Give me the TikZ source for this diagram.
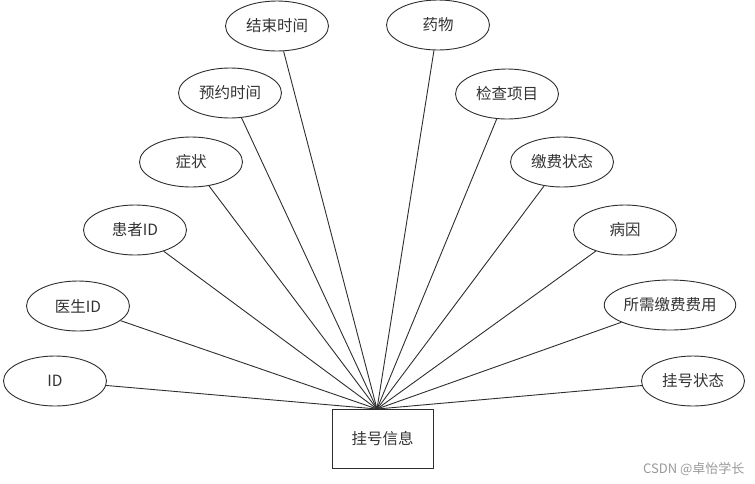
\documentclass[tikz,border=0pt]{standalone}
\usepackage{fontspec}
\newfontfamily\cjk{Noto Sans CJK SC}
\usetikzlibrary{shapes.geometric}
\definecolor{ln}{HTML}{2E2E2E}
\definecolor{tx}{HTML}{333333}
\begin{document}
\begin{tikzpicture}[x=1pt,y=-1pt,
  attr/.style={ellipse,draw=ln,line width=0.9pt,minimum width=103pt,minimum height=50pt,inner sep=0pt,font=\cjk\fontsize{15.5}{17}\selectfont,text=tx},
  ent/.style={rectangle,draw=ln,line width=1pt,minimum width=101pt,minimum height=59pt,inner sep=0pt,font=\cjk\fontsize{15.5}{17}\selectfont,text=tx},
  conn/.style={draw=ln,line width=0.9pt}]
\useasboundingbox (0,0) rectangle (755,483);
\node[ent] (box) at (382.5,438.5) {挂号信息};
\coordinate (hub) at (377,409);
\node[attr] (a1) at (55,381) {ID};
\node[attr] (a2) at (78,306) {医生ID};
\node[attr] (a3) at (135,230) {患者ID};
\node[attr] (a4) at (191,162) {症状};
\node[attr] (a5) at (230,93) {预约时间};
\node[attr] (a6) at (277,26) {结束时间};
\node[attr] (a7) at (438,25) {药物};
\node[attr] (a8) at (507,94) {检查项目};
\node[attr] (a9) at (562,162) {缴费状态};
\node[attr] (a10) at (625,230) {病因};
\node[attr,minimum width=107pt] (a11) at (670,305) {所需缴费费用};
\node[attr] (a12) at (693,381) {挂号状态};
\foreach \n in {a1,a2,a3,a4,a5,a6,a7,a8,a9,a10,a11,a12}
  \draw[conn] (\n) -- (hub);
\node[font=\cjk\fontsize{13}{15}\selectfont,text=black!40,anchor=east] (wm) at (748,469) {CSDN @卓怡学长};
\end{tikzpicture}
\end{document}
